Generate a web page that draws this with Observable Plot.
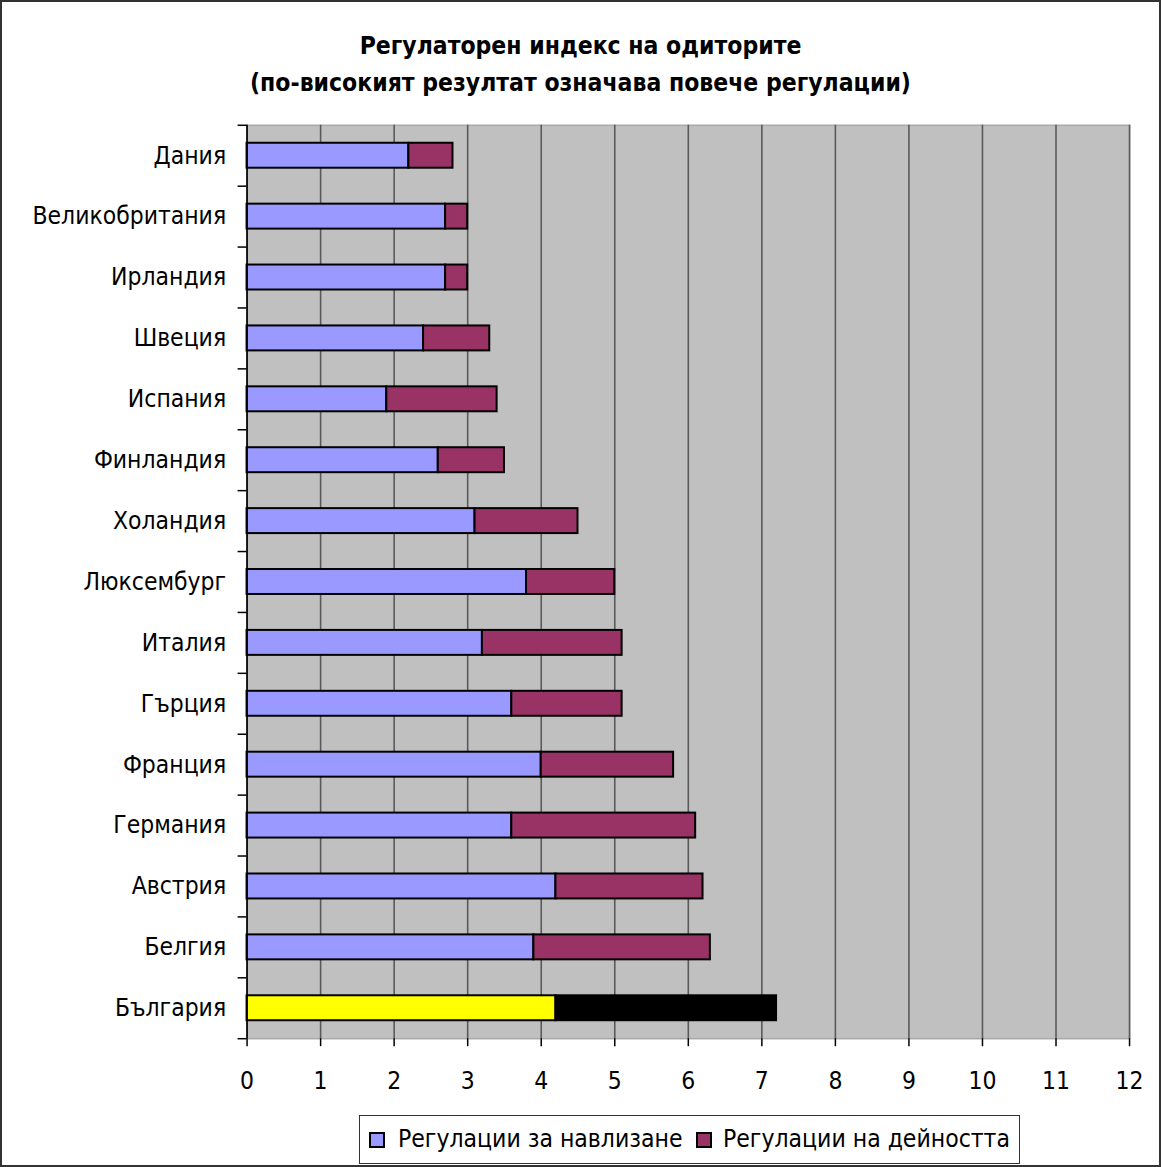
<!DOCTYPE html>
<html>
<head>
<meta charset="utf-8">
<script src="https://cdn.jsdelivr.net/npm/d3@7"></script>
<script src="https://cdn.jsdelivr.net/npm/@observablehq/plot@0.6"></script>
<style>
  html, body { margin: 0; padding: 0; background: #fff; }
  #wrap { position: relative; width: 1161px; height: 1167px; box-sizing: border-box; border: 2px solid #333; overflow: hidden; font-family: "DejaVu Sans Condensed", "Liberation Sans Narrow", "DejaVu Sans", sans-serif; }
  #title { position: absolute; left: 0; top: 25px; width: 100%; text-align: center; font-weight: bold; font-size: 24.5px; line-height: 37px; color: #000; }
  #chart { position: absolute; left: -2px; top: -2px; }
  #legend { position: absolute; left: 357px; top: 1113px; width: 661px; height: 49px; box-sizing: border-box; border: 1.5px solid #333; background: #fff; font-size: 24.5px; }
  .sw { position: absolute; top: 16px; width: 16px; height: 16px; box-sizing: border-box; border: 2px solid #000; }
  .lt { position: absolute; top: 0; line-height: 46px; white-space: nowrap; }
</style>
</head>
<body>
<div id="wrap">
  <div id="title">Регулаторен индекс на одиторите<br>(по-високият резултат означава повече регулации)</div>
  <div id="chart"></div>
  <div id="legend"></div>
</div>
<script>
const countries = ["Дания","Великобритания","Ирландия","Швеция","Испания","Финландия","Холандия","Люксембург","Италия","Гърция","Франция","Германия","Австрия","Белгия","България"];
const entryRegs = [2.2, 2.7, 2.7, 2.4, 1.9, 2.6, 3.1, 3.8, 3.2, 3.6, 4.0, 3.6, 4.2, 3.9, 4.2];
const activityRegs = [0.6, 0.3, 0.3, 0.9, 1.5, 0.9, 1.4, 1.2, 1.9, 1.5, 1.8, 2.5, 2.0, 2.4, 3.0];
const seriesNames = ["Регулации за навлизане", "Регулации на дейността"];
const seriesColors = ["#9999ff", "#993366"];
const highlight = "България";
const highlightColors = ["#ffff00", "#000000"];
const xTicks = [0,1,2,3,4,5,6,7,8,9,10,11,12];

const rows = [];
countries.forEach((c, i) => {
  rows.push({country: c, series: 0, value: entryRegs[i]});
  rows.push({country: c, series: 1, value: activityRegs[i]});
});
const colorOf = d => d.country === highlight ? highlightColors[d.series] : seriesColors[d.series];

const FONT = '"DejaVu Sans Condensed", "Liberation Sans Narrow", "DejaVu Sans", sans-serif';
const last = countries[countries.length - 1];

const chart = Plot.plot({
  width: 1161,
  height: 1167,
  marginTop: 125,
  marginLeft: 247,
  marginRight: 30,
  marginBottom: 127,
  style: { fontFamily: FONT, fontSize: "24.5px", color: "#000", background: "transparent", overflow: "visible" },
  x: { domain: [0, 12], ticks: xTicks },
  y: { domain: countries, paddingInner: 0.59, paddingOuter: 0.295 },
  marks: [
    Plot.frame({ fill: "#c0c0c0", stroke: "#a8a8a8", strokeWidth: 1.5 }),
    Plot.gridX(xTicks, { stroke: "#5a5a5a", strokeOpacity: 1, strokeWidth: 1.6 }),
    Plot.barX(rows, Plot.stackX({
      y: "country", x: "value", order: "series",
      fill: colorOf, stroke: "#000", strokeWidth: 2
    })),
    Plot.ruleX([0], { stroke: "#000", strokeWidth: 1.5 }),
    Plot.ruleY([0], { y: () => 0, stroke: "#000", strokeWidth: 1.5, frameAnchor: "bottom" }),
    Plot.ruleY(countries, { y: d => d, dy: -30.5, x1: 0, x2: 0, insetLeft: -9, stroke: "#000", strokeWidth: 1.5 }),
    Plot.ruleY([last], { y: d => d, dy: 30.5, x1: 0, x2: 0, insetLeft: -9, stroke: "#000", strokeWidth: 1.5 }),
    Plot.axisY({ tickSize: 0, tickPadding: 21, fontSize: 24.5, label: null }),
    Plot.axisX(xTicks, { tickSize: 8, tickPadding: 25, fontSize: 24.5, label: null, stroke: "#000", strokeWidth: 1.5 })
  ]
});
document.getElementById("chart").appendChild(chart);

const legend = document.getElementById("legend");
const swX = [9, 336];
const txtX = [38, 363];
seriesNames.forEach((n, i) => {
  const sw = document.createElement("span");
  sw.className = "sw";
  sw.style.left = swX[i] + "px";
  sw.style.background = seriesColors[i];
  legend.appendChild(sw);
  const t = document.createElement("span");
  t.className = "lt";
  t.style.left = txtX[i] + "px";
  t.textContent = n;
  legend.appendChild(t);
});
</script>
</body>
</html>
